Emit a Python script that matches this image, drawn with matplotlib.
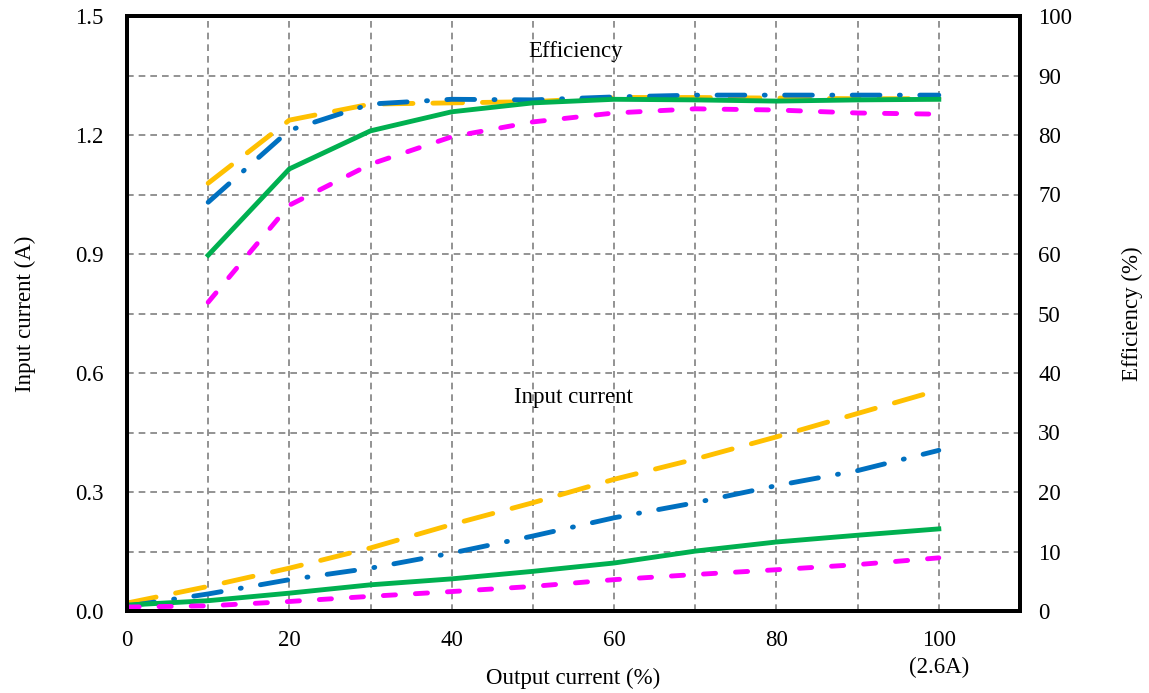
import numpy as np
import matplotlib.pyplot as plt

plt.rcParams['font.family'] = ['Liberation Serif', 'DejaVu Serif']
plt.rcParams['font.size'] = 16.5

# Output current (%)
load = [0, 10, 20, 30, 40, 50, 60, 70, 80, 90, 100]
load_eff = [10, 20, 30, 40, 50, 60, 70, 80, 90, 100]

# Input current (A)
iin_yellow = [0.020, 0.062, 0.108, 0.159, 0.218, 0.273, 0.332, 0.383, 0.439, 0.498, 0.557]
iin_blue = [0.012, 0.043, 0.079, 0.108, 0.146, 0.189, 0.235, 0.273, 0.316, 0.354, 0.405]
iin_green = [0.015, 0.026, 0.045, 0.066, 0.081, 0.100, 0.121, 0.151, 0.174, 0.191, 0.207]
iin_magenta = [0.010, 0.013, 0.024, 0.037, 0.049, 0.062, 0.079, 0.092, 0.104, 0.117, 0.134]

# Efficiency (%)
eff_yellow = [71.9, 82.5, 85.2, 85.4, 85.6, 86.3, 86.3, 86.2, 86.1, 86.1]
eff_blue = [68.7, 80.8, 85.2, 86.0, 85.9, 86.4, 86.7, 86.7, 86.7, 86.7]
eff_green = [59.8, 74.3, 80.7, 83.9, 85.4, 86.0, 85.9, 85.7, 85.9, 86.0]
eff_magenta = [51.9, 68.2, 75.1, 79.7, 82.2, 83.7, 84.4, 84.2, 83.7, 83.5]

c_yellow = '#FFC000'
c_blue = '#0070C0'
c_green = '#00B050'
c_magenta = '#FF00FF'
lw = 3.5
ls_yellow = (0, (6.1, 4.1))
ls_blue = (0, (5.7, 4.0, 0.2, 4.0))
ls_magenta = (0, (2.5, 4.1))

fig = plt.figure(figsize=(11.49, 6.93), dpi=100)
ax = fig.add_axes([127/1149, 1 - 611/693, (1020-127)/1149, (611-16)/693])
ax2 = ax.twinx()

ax.set_xlim(0, 110)
ax.set_ylim(0, 1.5)
ax2.set_ylim(0, 100)
ax.set_xticks(np.arange(0, 101, 20))
ax.set_yticks(np.arange(0, 1.51, 0.3))
ax.set_yticklabels(['%.1f' % v for v in np.arange(0, 1.51, 0.3)])
ax2.set_yticks(np.arange(0, 101, 10))

ax.set_xticks(np.arange(0, 111, 10), minor=True)
ax.set_yticks(np.arange(0, 1.51, 0.15), minor=True)
ax.grid(which='both', color='#808080', linestyle=(0, (4, 3)), linewidth=1.2)
ax.tick_params(which='both', length=0)
ax.tick_params(axis='y', pad=17)
ax.tick_params(axis='x', pad=14)
ax2.tick_params(length=0, pad=13)

for a in (ax, ax2):
    for s in a.spines.values():
        s.set_linewidth(2.8)

ax.plot(load, iin_yellow, color=c_yellow, lw=lw, ls=ls_yellow, dash_capstyle='round')
ax.plot(load, iin_blue, color=c_blue, lw=lw, ls=ls_blue, dash_capstyle='round')
ax.plot(load, iin_green, color=c_green, lw=lw, ls='-')
ax.plot(load, iin_magenta, color=c_magenta, lw=lw, ls=ls_magenta, dash_capstyle='round')

ax2.plot(load_eff, eff_yellow, color=c_yellow, lw=lw, ls=ls_yellow, dash_capstyle='round')
ax2.plot(load_eff, eff_blue, color=c_blue, lw=lw, ls=ls_blue, dash_capstyle='round')
ax2.plot(load_eff, eff_green, color=c_green, lw=lw, ls='-')
ax2.plot(load_eff, eff_magenta, color=c_magenta, lw=lw, ls=ls_magenta, dash_capstyle='round')

ax.text(55.2, 1.41, 'Efficiency', ha='center', va='center')
ax.text(55.0, 0.537, 'Input current', ha='center', va='center')

ax.set_ylabel('Input current (A)', labelpad=28)
ax2.set_ylabel('Efficiency (%)', labelpad=36)
ax.set_xlabel('Output current (%)', labelpad=12)
ax.text(100, -0.143, '(2.6A)', ha='center', va='center', clip_on=False)

fig.savefig('out.png', dpi=100, facecolor='white')
